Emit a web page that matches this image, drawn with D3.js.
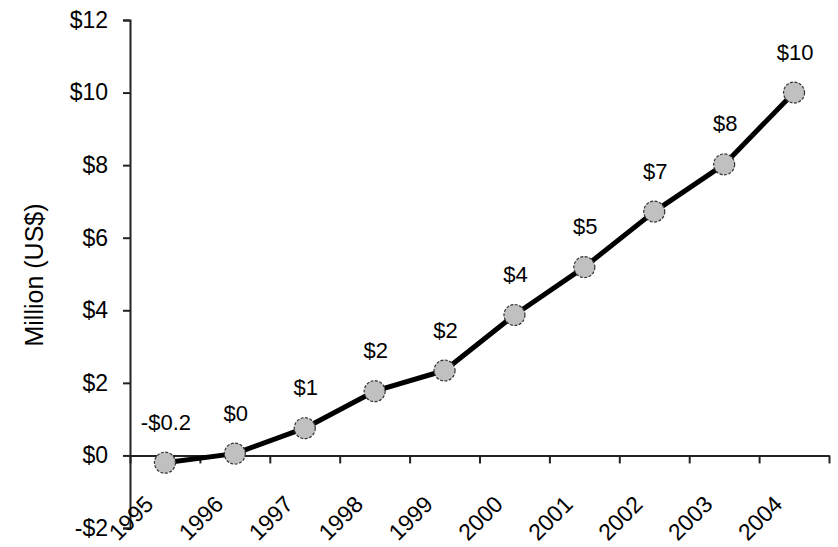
<!DOCTYPE html>
<html><head><meta charset="utf-8">
<script src="https://cdn.jsdelivr.net/npm/d3@7"></script>
<style>body{margin:0;background:#fff}svg{display:block}text{font-family:"Liberation Sans",Arial,sans-serif;fill:#000}</style>
</head><body>
<svg id="c" width="838" height="547"></svg>
<script>
const years = ["1995","1996","1997","1998","1999","2000","2001","2002","2003","2004"];
const values = [-0.2, 0.05, 0.75, 1.77, 2.34, 3.87, 5.19, 6.72, 8.02, 10.0];
const valueLabels = ["-$0.2","$0","$1","$2","$2","$4","$5","$7","$8","$10"];
const yTicks = [-2, 0, 2, 4, 6, 8, 10, 12];
const yTitle = "Million (US$)";

(function () {
const svg = d3.select("#c");
const pLeft = 130, pRight = 829, pTop = 20, pBottom = 528;
const y = d3.scaleLinear().domain([-2, 12]).range([pBottom, pTop]);
const x = d3.scaleBand().domain(years).range([pLeft, pRight]);
const xb = d3.scaleLinear().domain([0, years.length]).range([pLeft, pRight]);

// Y axis
const ya = svg.append("g").attr("transform", `translate(${pLeft},0)`)
  .call(d3.axisLeft(y).tickValues(yTicks).tickSize(7).tickPadding(15)
    .tickFormat(d => d < 0 ? "-$" + (-d) : "$" + d));
ya.select(".domain").attr("stroke", "#222").attr("stroke-width", 2);
ya.selectAll(".tick line").attr("stroke", "#222").attr("stroke-width", 2);
ya.selectAll(".tick text").attr("font-size", 23).attr("font-family", "Liberation Sans, Arial, sans-serif").attr("fill", "#000");

// X axis at y=0 with tick marks at category boundaries
const xa = svg.append("g").attr("transform", `translate(0,${y(0)})`)
  .call(d3.axisBottom(xb).tickValues(d3.range(0, years.length + 1)).tickSize(8).tickSizeOuter(0)
    .tickFormat(() => ""));
xa.select(".domain").attr("stroke", "#222").attr("stroke-width", 2);
xa.selectAll(".tick line").attr("stroke", "#222").attr("stroke-width", 2);

// rotated year labels
svg.append("g").selectAll("text").data(years).join("text")
  .attr("transform", (d, i) => `translate(${xb(i) + 1},518) rotate(-45)`)
  .attr("text-anchor", "middle").attr("dy", "0.35em")
  .attr("font-size", 23)
  .text(d => d);

// Y title
svg.append("text")
  .attr("transform", `translate(43,275) rotate(-90)`)
  .attr("text-anchor", "middle").attr("font-size", 25).attr("fill", "#222")
  .text(yTitle);

const cx = d => x(d) + x.bandwidth() / 2;

// Line
svg.append("path").datum(values.map((v, i) => [years[i], v]))
  .attr("fill", "none").attr("stroke", "#000").attr("stroke-width", 5)
  .attr("stroke-linejoin", "round")
  .attr("d", d3.line().x(d => cx(d[0])).y(d => y(d[1])));

// Markers
svg.append("g").selectAll("circle").data(values).join("circle")
  .attr("cx", (d, i) => cx(years[i])).attr("cy", d => y(d)).attr("r", 10.5)
  .attr("fill", "#c0c0c0").attr("stroke", "#333").attr("stroke-width", 1.2)
  .attr("stroke-dasharray", "3,1.5");

// Value labels
svg.append("g").selectAll("text").data(values).join("text")
  .attr("x", (d, i) => cx(years[i]) + 1).attr("y", d => y(d) - 33)
  .attr("text-anchor", "middle").attr("font-size", 22)
  .text((d, i) => valueLabels[i]);
})();
</script>
</body></html>
